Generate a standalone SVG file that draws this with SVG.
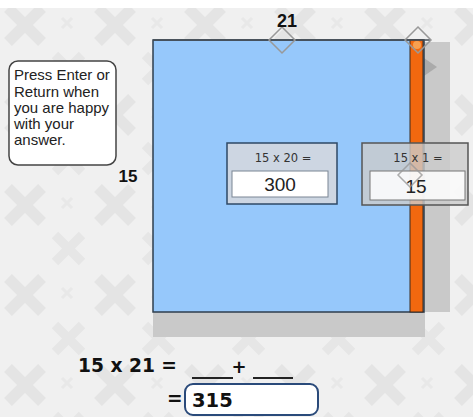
<svg xmlns="http://www.w3.org/2000/svg" width="473" height="417" viewBox="0 0 473 417">
<defs>
<pattern id="bgx" x="0" y="0" width="90" height="90" patternUnits="userSpaceOnUse">
<rect width="90" height="90" fill="#f0f0f0"/>
<path d="M8 8 L42 42 M42 8 L8 42" stroke="#e4e4e4" stroke-width="11"/>
<path d="M55 55 L82 82 M82 55 L55 82" stroke="#e6e6e6" stroke-width="9"/>
<path d="M62 18 L72 28 M72 18 L62 28" stroke="#e8e8e8" stroke-width="3"/>
</pattern>
<style>
.lbl{font-family:"Liberation Sans",Arial,sans-serif;font-weight:bold;fill:#111}
.note{font-family:"Liberation Sans",Arial,sans-serif;font-size:15px;fill:#222}
.cap{font-family:"DejaVu Sans",Verdana,sans-serif;font-size:11.5px;fill:#333;text-anchor:middle}
.val{font-family:"Liberation Sans",Arial,sans-serif;font-size:19px;fill:#222;text-anchor:middle}
.big{font-family:"DejaVu Sans",Verdana,sans-serif;font-weight:bold;fill:#111}
.dia{fill:none;stroke:#999;stroke-width:1.5}
</style>
</defs>
<rect width="473" height="417" fill="url(#bgx)"/>
<rect width="473" height="8" fill="#ffffff"/>

<g id="area">
<rect x="423" y="42" width="27" height="270" fill="#c9c9c9"/>
<rect x="153" y="312" width="272" height="25" fill="#c9c9c9"/>
<path d="M424 58 L437 67 L424 76 Z" fill="#aaaaaa"/>
<rect x="153" y="40" width="271" height="272" fill="#96c8fb" stroke="#2e3e4e" stroke-width="1.5"/>
<rect x="410" y="40" width="13" height="272" fill="#f2680f" stroke="#3a2a20" stroke-width="1"/>
<circle cx="417" cy="45" r="4" fill="#f7a050"/>
<line x1="153" y1="40" x2="430" y2="40" stroke="#444c55" stroke-width="1.5"/>
</g>

<g id="handle-top">
<path class="dia" d="M282 27 L295 40 L282 53 L269 40 Z"/>
</g>
<g id="handle-corner">
<path class="dia" d="M418 27 L431 40 L418 53 L405 40 Z"/>
</g>

<g id="label-21"><text class="lbl" x="287" y="27" font-size="18" text-anchor="middle">21</text></g>
<g id="label-15"><text class="lbl" x="128" y="182" font-size="17" text-anchor="middle">15</text></g>

<g id="note">
<rect x="9" y="61" width="107" height="104" rx="9" fill="#ffffff" stroke="#444" stroke-width="1.5"/>
<text class="note" x="14" y="80">Press Enter or</text>
<text class="note" x="14" y="97">Return when</text>
<text class="note" x="14" y="113">you are happy</text>
<text class="note" x="14" y="129">with your</text>
<text class="note" x="14" y="145">answer.</text>
</g>

<g id="box-300">
<rect x="227" y="143" width="110" height="61" fill="#cdd6e2" stroke="#2e4866" stroke-width="1.5"/>
<text class="cap" x="283" y="162">15 x 20 =</text>
<rect x="232" y="171" width="96" height="26" fill="#ffffff" stroke="#7a8594" stroke-width="1"/>
<text class="val" x="280" y="191">300</text>
</g>

<g id="box-15">
<rect x="362" y="143" width="106" height="62" fill="#cccccc" fill-opacity="0.8" stroke="#555" stroke-width="1.5"/>
<text class="cap" x="418" y="162">15 x 1 =</text>
<rect x="370" y="171" width="95" height="29" fill="#ffffff" fill-opacity="0.85" stroke="#777" stroke-width="1"/>
<text class="val" x="416" y="193">15</text>
<path d="M410 163 L422 175 L410 187 L398 175 Z" fill="none" stroke="#999" stroke-width="1.5" opacity="0.8"/>
</g>

<g id="equation">
<text class="big" x="78" y="372" font-size="18.6" textLength="99" lengthAdjust="spacingAndGlyphs">15 x 21 =</text>
<line x1="192" y1="378" x2="233" y2="378" stroke="#222" stroke-width="2"/>
<text class="big" x="239" y="373" font-size="18" text-anchor="middle">+</text>
<line x1="253" y1="378" x2="293" y2="378" stroke="#222" stroke-width="2"/>
<text class="big" x="167" y="405" font-size="18.6">=</text>
</g>

<g id="answer">
<rect x="185" y="384" width="133" height="31" rx="8" fill="#ffffff" stroke="#2a4a7a" stroke-width="2"/>
<text class="big" x="192" y="407" font-size="19.5">315</text>
</g>
</svg>
